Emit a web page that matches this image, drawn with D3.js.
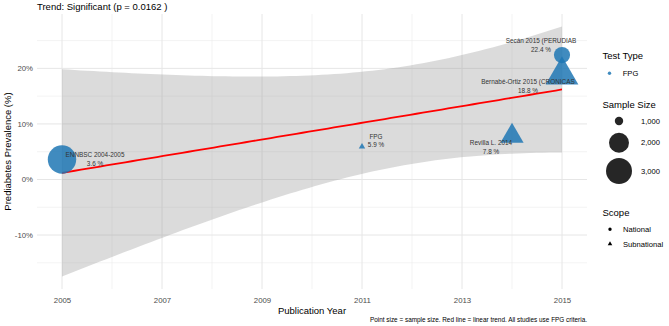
<!DOCTYPE html>
<html><head><meta charset="utf-8">
<script src="https://cdn.jsdelivr.net/npm/d3@7"></script>
<style>
html,body{margin:0;padding:0;background:#fff;}
svg{display:block;font-family:"Liberation Sans",Arial,sans-serif;}
</style></head>
<body><svg id="chart" width="669" height="326"></svg>
<script>
// ---- data ----
const studies = ["ENNBSC 2004-2005", "FPG", "Revilla L. 2014", "Bernabé-Ortiz 2015 (CRONICAS", "Secán 2015 (PERUDIAB"];
const years = [2005, 2011, 2014, 2015, 2015];
const prevalence = [3.6, 5.9, 7.8, 18.8, 22.4];
const sampleSize = [3500, 940, 1650, 2690, 1535];
const scope = ["National", "Subnational", "Subnational", "Subnational", "National"];
const testType = ["FPG", "FPG", "FPG", "FPG", "FPG"];
const xTicks = [2005, 2007, 2009, 2011, 2013, 2015];
const xMinor = [2006, 2008, 2010, 2012, 2014];
const yTicks = [-10, 0, 10, 20];
const yMinor = [-15, -5, 5, 15, 25];
const sizeBreaks = [1000, 2000, 3000];
const sizeLabels = ["1,000", "2,000", "3,000"];
const scopeLevels = ["National", "Subnational"];
const pValue = "0.0162";
const tCrit = 3.182446; // t quantile 0.975, df = n - 2 = 3

// ---- linear fit + 95% CI (as geom_smooth(method="lm")) ----
const n = years.length;
const mx = d3.mean(years), my = d3.mean(prevalence);
let sxx = 0, sxy = 0;
years.forEach((x, i) => { sxx += (x - mx) ** 2; sxy += (x - mx) * (prevalence[i] - my); });
const slope = sxy / sxx, intercept = my - slope * mx;
let sse = 0;
years.forEach((x, i) => { sse += (prevalence[i] - (intercept + slope * x)) ** 2; });
const sRes = Math.sqrt(sse / (n - 2));
const xMinD = d3.min(years), xMaxD = d3.max(years);
const fit = d3.range(80).map(k => {
  const x = xMinD + (xMaxD - xMinD) * k / 79;
  const yhat = intercept + slope * x;
  const se = sRes * Math.sqrt(1 / n + (x - mx) ** 2 / sxx);
  return { x, y: yhat, lo: yhat - tCrit * se, hi: yhat + tCrit * se };
});

const data = studies.map((s, i) => ({ s, x: years[i], y: prevalence[i], n: sampleSize[i], scope: scope[i], test: testType[i] }));

// ---- scales ----
const svg = d3.select("#chart");
const P = { left: 37, right: 587, top: 14, bottom: 289 };
const xPad = (xMaxD - xMinD) * 0.05;
const x = d3.scaleLinear().domain([xMinD - xPad, xMaxD + xPad]).range([P.left, P.right]);
const yLo = Math.min(d3.min(fit, d => d.lo), d3.min(prevalence));
const yHi = Math.max(d3.max(fit, d => d.hi), d3.max(prevalence));
const yPad = (yHi - yLo) * 0.05;
const y = d3.scaleLinear().domain([yLo - yPad, yHi + yPad]).range([P.bottom, P.top]);

const nMin = d3.min(sampleSize), nMax = d3.max(sampleSize);
const tN = d3.scaleLinear().domain([nMin, nMax]).range([0, 1]);
const rLin = d3.scaleLinear().domain([0, 1]).range([2.4, 14.2]);
const rScale = v => rLin(Math.sqrt(Math.max(0, tN(v))));
const shape = d3.scaleOrdinal().domain(scopeLevels).range([d3.symbolCircle, d3.symbolTriangle]);
const color = d3.scaleOrdinal().domain(["FPG"]).range(["#1f77b4"]);

// ---- grid ----
const grid = svg.append("g");
grid.selectAll(".ym").data(yMinor).join("line")
  .attr("x1", P.left).attr("x2", P.right).attr("y1", d => y(d)).attr("y2", d => y(d))
  .attr("stroke", "#ebebeb").attr("stroke-width", 0.6);
grid.selectAll(".xm").data(xMinor).join("line")
  .attr("y1", P.top).attr("y2", P.bottom).attr("x1", d => x(d)).attr("x2", d => x(d))
  .attr("stroke", "#ebebeb").attr("stroke-width", 0.6);
grid.selectAll(".yM").data(yTicks).join("line")
  .attr("x1", P.left).attr("x2", P.right).attr("y1", d => y(d)).attr("y2", d => y(d))
  .attr("stroke", "#e6e6e6").attr("stroke-width", 1);
grid.selectAll(".xM").data(xTicks).join("line")
  .attr("y1", P.top).attr("y2", P.bottom).attr("x1", d => x(d)).attr("x2", d => x(d))
  .attr("stroke", "#e6e6e6").attr("stroke-width", 1);

// ---- ribbon + line ----
svg.append("path").datum(fit)
  .attr("d", d3.area().x(d => x(d.x)).y0(d => y(d.lo)).y1(d => y(d.hi)))
  .attr("fill", "#999999").attr("fill-opacity", 0.35);
svg.append("path").datum(fit)
  .attr("d", d3.line().x(d => x(d.x)).y(d => y(d.y)))
  .attr("fill", "none").attr("stroke", "#ff0000").attr("stroke-width", 1.8);

// ---- points ----
svg.append("g").selectAll("path").data(data).join("path")
  .attr("transform", d => `translate(${x(d.x)},${y(d.y)})`)
  .attr("d", d => d3.symbol().type(shape(d.scope)).size(Math.PI * rScale(d.n) ** 2)())
  .attr("fill", d => color(d.test)).attr("fill-opacity", 0.85);

// ---- labels ----
const nudge = { "ENNBSC 2004-2005": [33, 0], "FPG": [14, -6], "Revilla L. 2014": [-21, 11],
  "Bernabé-Ortiz 2015 (CRONICAS": [-34, 11.5], "Secán 2015 (PERUDIAB": [-21, -10] };
const lab = svg.append("g").attr("font-size", 6.4).attr("fill", "#333").attr("text-anchor", "middle");
data.forEach(d => {
  const [dx, dy] = nudge[d.s];
  const cx = x(d.x) + dx, cy = y(d.y) + dy;
  const t = lab.append("text");
  t.append("tspan").attr("x", cx).attr("y", cy - 4.4 + 2.2).text(d.s);
  t.append("tspan").attr("x", cx).attr("y", cy + 4.4 + 2.2).text(d3.format(".1f")(d.y) + " %");
});

// ---- axes ----
const xAxis = svg.append("g").attr("transform", `translate(0,${P.bottom})`)
  .call(d3.axisBottom(x).tickValues(xTicks).tickFormat(d3.format("d")).tickSize(0).tickPadding(8));
const yAxis = svg.append("g").attr("transform", `translate(${P.left},0)`)
  .call(d3.axisLeft(y).tickValues(yTicks).tickFormat(d => d + "%").tickSize(0).tickPadding(4));
[xAxis, yAxis].forEach(a => {
  a.select(".domain").remove();
  a.selectAll("text").attr("fill", "#4d4d4d").attr("font-size", 7.8).attr("font-family", "Liberation Sans, Arial, sans-serif");
});

svg.append("text").attr("x", (P.left + P.right) / 2).attr("y", 313.5).attr("text-anchor", "middle")
  .attr("font-size", 9.5).attr("fill", "#000").text("Publication Year");
svg.append("text").attr("transform", `translate(10.5,${(P.top + P.bottom) / 2}) rotate(-90)`)
  .attr("text-anchor", "middle").attr("font-size", 9.5).attr("fill", "#000").text("Prediabetes Prevalence (%)");
svg.append("text").attr("x", P.left).attr("y", 9.5).attr("font-size", 9.5).attr("fill", "#000")
  .text(`Trend: Significant (p = ${pValue} )`);
svg.append("text").attr("x", P.right).attr("y", 321.8).attr("text-anchor", "end")
  .attr("font-size", 6.4).attr("fill", "#000")
  .text("Point size = sample size. Red line = linear trend. All studies use FPG criteria.");

// ---- legends ----
const L = svg.append("g");
const lx = 602.5;
function title(t, cy) { L.append("text").attr("x", lx).attr("y", cy + 3.3).attr("font-size", 9.5).attr("fill", "#000").text(t); }
function label(t, tx, cy) { L.append("text").attr("x", tx).attr("y", cy + 2.7).attr("font-size", 7.6).attr("fill", "#000").text(t); }

title("Test Type", 55.7);
color.domain().forEach((k, i) => {
  const cy = 73.3 + i * 15;
  L.append("circle").attr("cx", 609.5).attr("cy", cy).attr("r", 1.7).attr("fill", color(k)).attr("fill-opacity", 0.85);
  label(k, 622.7, cy);
});

title("Sample Size", 104.3);
const sizeY = [121, 142.7, 171];
sizeBreaks.forEach((b, i) => {
  L.append("circle").attr("cx", 619).attr("cy", sizeY[i]).attr("r", rScale(b)).attr("fill", "#000").attr("fill-opacity", 0.85);
  label(sizeLabels[i], 641, sizeY[i]);
});

title("Scope", 212.7);
scopeLevels.forEach((k, i) => {
  const cy = 229.3 + i * 14.7;
  L.append("path").attr("transform", `translate(610,${cy})`)
    .attr("d", d3.symbol().type(shape(k)).size(Math.PI * 1.7 * 1.7)()).attr("fill", "#000");
  label(k, 623, cy);
});
</script></body></html>
